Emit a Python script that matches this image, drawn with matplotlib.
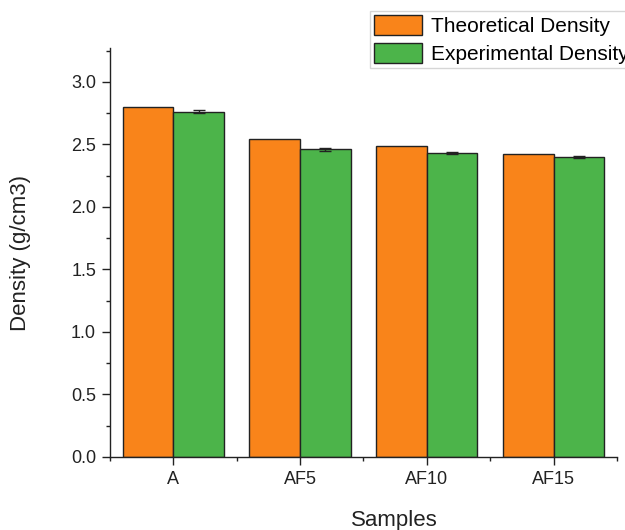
import matplotlib
matplotlib.use("Agg")
import matplotlib.pyplot as plt
import numpy as np
from matplotlib.ticker import MultipleLocator, FormatStrFormatter

plt.rcParams['font.family'] = ['Liberation Sans', 'DejaVu Sans']

samples = ["A", "AF5", "AF10", "AF15"]
theoretical = [2.80, 2.54, 2.49, 2.42]
experimental = [2.76, 2.46, 2.43, 2.40]
experimental_err = [0.012, 0.010, 0.010, 0.008]

orange = "#F9841A"
green = "#4CB44A"

fig = plt.figure(figsize=(6.25, 5.3), dpi=100)
ax = fig.add_axes([0.176, 0.138, 0.811, 0.771])

x = np.arange(len(samples))
w = 0.4
ax.bar(x, theoretical, width=-w, align='edge', color=orange,
       edgecolor="#222222", linewidth=1.0, label="Theoretical Density")
ax.bar(x, experimental, width=w, align='edge', color=green,
       edgecolor="#222222", linewidth=1.0, label="Experimental Density")
ax.errorbar(x + w / 2, experimental, yerr=experimental_err, fmt='none',
            ecolor="#222222", elinewidth=1.0, capsize=4, capthick=1.0)

ax.set_xlim(-0.49, 3.49)
ax.set_ylim(0, 3.27)
ax.set_xticks(x)
ax.set_xticklabels(samples)
ax.set_xticks([-0.5, 0.5, 1.5, 2.5, 3.5], minor=True)
ax.yaxis.set_major_locator(MultipleLocator(0.5))
ax.yaxis.set_minor_locator(MultipleLocator(0.25))
ax.yaxis.set_major_formatter(FormatStrFormatter('%.1f'))

for s in ["top", "right"]:
    ax.spines[s].set_visible(False)
for s in ["left", "bottom"]:
    ax.spines[s].set_linewidth(1.0)
    ax.spines[s].set_color("#222222")

ax.tick_params(axis='both', which='major', direction='out', length=6,
               width=1.0, labelsize=13, colors="#222222", pad=4)
ax.tick_params(axis='both', which='minor', direction='out', length=3,
               width=1.0, colors="#222222")

ax.set_xlabel("Samples", fontsize=16, color="#222222")
ax.xaxis.set_label_coords(0.56, -0.13)
ax.set_ylabel("Density (g/cm3)", fontsize=16, color="#222222")
ax.yaxis.set_label_coords(-0.155, 0.5)

leg = fig.legend(loc='upper left', bbox_to_anchor=(370 / 625, 1 - 11 / 530),
                 fontsize=15, frameon=True, fancybox=False, edgecolor="#cccccc",
                 handlelength=2.3, handleheight=1.1, labelspacing=0.3,
                 handletextpad=0.45, borderpad=0.2, borderaxespad=0)
leg.get_frame().set_linewidth(1.0)

fig.savefig("out.png", dpi=100)
